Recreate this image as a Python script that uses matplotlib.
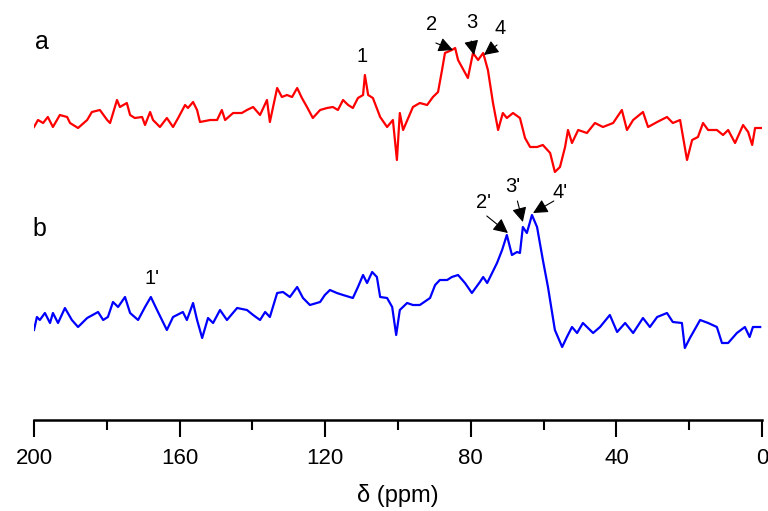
import matplotlib
matplotlib.use("Agg")
import matplotlib.pyplot as plt
from matplotlib.ticker import MultipleLocator

plt.rcParams['font.family'] = ['Liberation Sans', 'DejaVu Sans']

# spectrum a (red): chemical shift (ppm) and intensity (arb. units)
ppm_a = [200.0, 198.9, 197.5, 196.2, 194.8, 192.9, 190.9, 190.1, 187.9, 185.4,
         184.1, 181.9, 179.9, 179.1, 177.2, 176.4, 174.5, 173.6, 172.3, 170.3,
         169.5, 168.1, 167.3, 165.4, 163.5, 161.8, 160.4, 158.5, 157.7, 156.3,
         155.2, 154.4, 151.6, 149.7, 148.4, 147.5, 145.3, 142.9, 141.5, 139.8,
         137.9, 136.0, 135.2, 133.2, 131.9, 130.5, 129.1, 127.7, 126.4, 125.0,
         123.4, 121.4, 119.5, 117.9, 116.5, 115.1, 113.7, 112.4, 111.0, 109.6,
         109.1, 108.2, 106.9, 104.9, 103.0, 101.4, 100.3, 99.5, 98.6, 95.9,
         94.0, 92.0, 90.4, 89.0, 87.9, 87.1, 85.2, 84.3, 83.5, 80.8,
         79.4, 78.0, 76.6, 75.3, 73.9, 72.5, 71.2, 70.1, 68.4, 66.5,
         65.1, 63.7, 61.8, 60.2, 58.2, 56.9, 55.5, 54.1, 53.3, 52.2,
         50.5, 48.1, 45.9, 43.7, 40.9, 38.5, 37.1, 35.4, 32.7, 31.3,
         28.8, 26.1, 24.5, 22.5, 20.6, 19.2, 17.6, 16.2, 14.8, 12.4,
         10.7, 9.3, 7.4, 5.2, 3.8, 2.7, 1.9, 0.0]
int_a = [3, 10, 7, 13, 3, 15, 13, 7, 2, 10,
         18, 20, 10, 7, 30, 23, 27, 15, 12, 13,
         5, 18, 10, 3, 12, 3, 12, 25, 22, 28,
         20, 8, 10, 10, 20, 10, 17, 17, 20, 23,
         15, 30, 8, 42, 33, 35, 33, 42, 32, 23,
         12, 20, 22, 23, 20, 30, 25, 22, 32, 35,
         55, 35, 32, 13, 3, 10, -30, 17, 0, 23,
         27, 25, 33, 38, 60, 77, 80, 82, 70, 52,
         77, 70, 77, 60, 27, 0, 17, 12, 17, 12,
         -8, -17, -17, -15, -23, -42, -37, -17, 0, -13,
         0, -3, 7, 3, 7, 20, 0, 10, 18, 3,
         8, 13, 7, 10, -30, -10, -7, 7, 0, 0,
         -5, 0, -13, 5, -2, -15, 2, 2]

# spectrum b (blue)
ppm_b = [200.0, 199.2, 198.4, 197.0, 195.6, 194.8, 193.4, 191.5, 189.6, 187.9,
         185.4, 182.4, 181.0, 179.7, 178.3, 176.9, 175.0, 173.6, 171.4, 169.5,
         167.9, 166.2, 163.5, 161.8, 159.1, 158.0, 156.3, 155.2, 153.8, 152.2,
         150.8, 148.9, 147.0, 144.2, 141.5, 139.8, 137.9, 136.5, 135.2, 133.2,
         131.6, 129.7, 127.7, 126.1, 124.2, 121.4, 120.1, 118.7, 116.8, 115.1,
         112.4, 111.0, 109.6, 108.5, 107.1, 105.8, 104.9, 103.0, 101.6, 100.5,
         99.5, 97.5, 95.9, 94.0, 91.2, 89.8, 88.5, 86.5, 85.2, 83.5,
         81.6, 79.7, 77.5, 76.6, 75.5, 72.8, 71.4, 70.1, 68.7, 67.3,
         66.5, 65.7, 64.6, 63.2, 61.8, 60.2, 58.8, 56.9, 54.9, 53.6,
         52.2, 50.8, 49.2, 46.4, 44.5, 41.8, 39.8, 37.6, 35.4, 32.7,
         30.8, 28.8, 26.1, 24.5, 22.0, 21.2, 19.8, 17.0, 14.8, 12.4,
         11.0, 9.3, 6.9, 4.7, 3.4, 2.5, 0.5]
int_b = [-10, 3, 0, 7, -3, 7, -3, 12, 0, -7,
         2, 8, 0, 3, 18, 13, 23, 7, 0, 13,
         23, 10, -10, 3, 8, 0, 17, 0, -18, 2,
         -3, 10, 0, 12, 10, 5, 0, 8, 3, 27,
         28, 23, 33, 22, 15, 18, 25, 30, 27, 25,
         22, 33, 45, 37, 48, 43, 23, 22, 13, -15,
         10, 17, 15, 15, 22, 35, 40, 40, 43, 45,
         37, 27, 38, 43, 37, 57, 70, 85, 65, 68,
         67, 93, 87, 105, 93, 60, 33, -10, -27, -17,
         -7, -13, -3, -13, -7, 5, -12, -3, -13, 2,
         -7, 3, 7, -2, -3, -28, -18, 0, -3, -7,
         -23, -23, -13, -7, -17, -7, -7]

offset_a = 290
offset_b = 100

fig = plt.figure(figsize=(7.68, 5.11), dpi=100)
ax = fig.add_axes([34/768, 91/511, 728/768, 400/511])

ax.plot(ppm_a, [v + offset_a for v in int_a], color='#ff0000', lw=1.6)
ax.plot(ppm_b, [v + offset_b for v in int_b], color='#0000ff', lw=1.6)

ax.set_xlim(200, 0)
ax.set_ylim(0, 400)

# trace labels
ax.text(197.8, 378, 'a', fontsize=18, ha='center', va='center')
ax.text(198.4, 191, 'b', fontsize=18, ha='center', va='center')

# peak labels
ax.text(109.9, 363, '1', fontsize=14.5, ha='center', va='center')
ax.text(167.6, 142, "1'", fontsize=14.5, ha='center', va='center')

arrow = dict(arrowstyle='-|>', color='black', lw=0.8, mutation_scale=22,
             shrinkA=0, shrinkB=0)
peaks = [('2', (90.7, 395), (89.6, 377), (84.9, 370)),
         ('3', (79.7, 397), (79.9, 379), (79.1, 365)),
         ('4', (72.0, 391), (72.8, 375), (76.4, 365)),
         ("2'", (76.4, 217), (75.6, 204), (69.8, 187)),
         ("3'", (68.4, 233), (67.2, 219), (65.7, 198)),
         ("4'", (55.5, 228), (57.2, 219), (62.9, 207))]
for lab, txt, tail, head in peaks:
    ax.text(txt[0], txt[1], lab, fontsize=14.5, ha='center', va='center')
    ax.annotate('', xy=head, xytext=tail, arrowprops=arrow)

for s in ['left', 'right', 'top']:
    ax.spines[s].set_visible(False)
ax.spines['bottom'].set_linewidth(1.8)
ax.set_yticks([])
ax.xaxis.set_major_locator(MultipleLocator(40))
ax.xaxis.set_minor_locator(MultipleLocator(20))
ax.tick_params(axis='x', which='major', length=12, width=1.5, labelsize=16, pad=8)
ax.tick_params(axis='x', which='minor', length=7, width=1.5)
ax.set_xlabel('δ (ppm)', fontsize=17, labelpad=11)

fig.savefig('out.png', dpi=100)
